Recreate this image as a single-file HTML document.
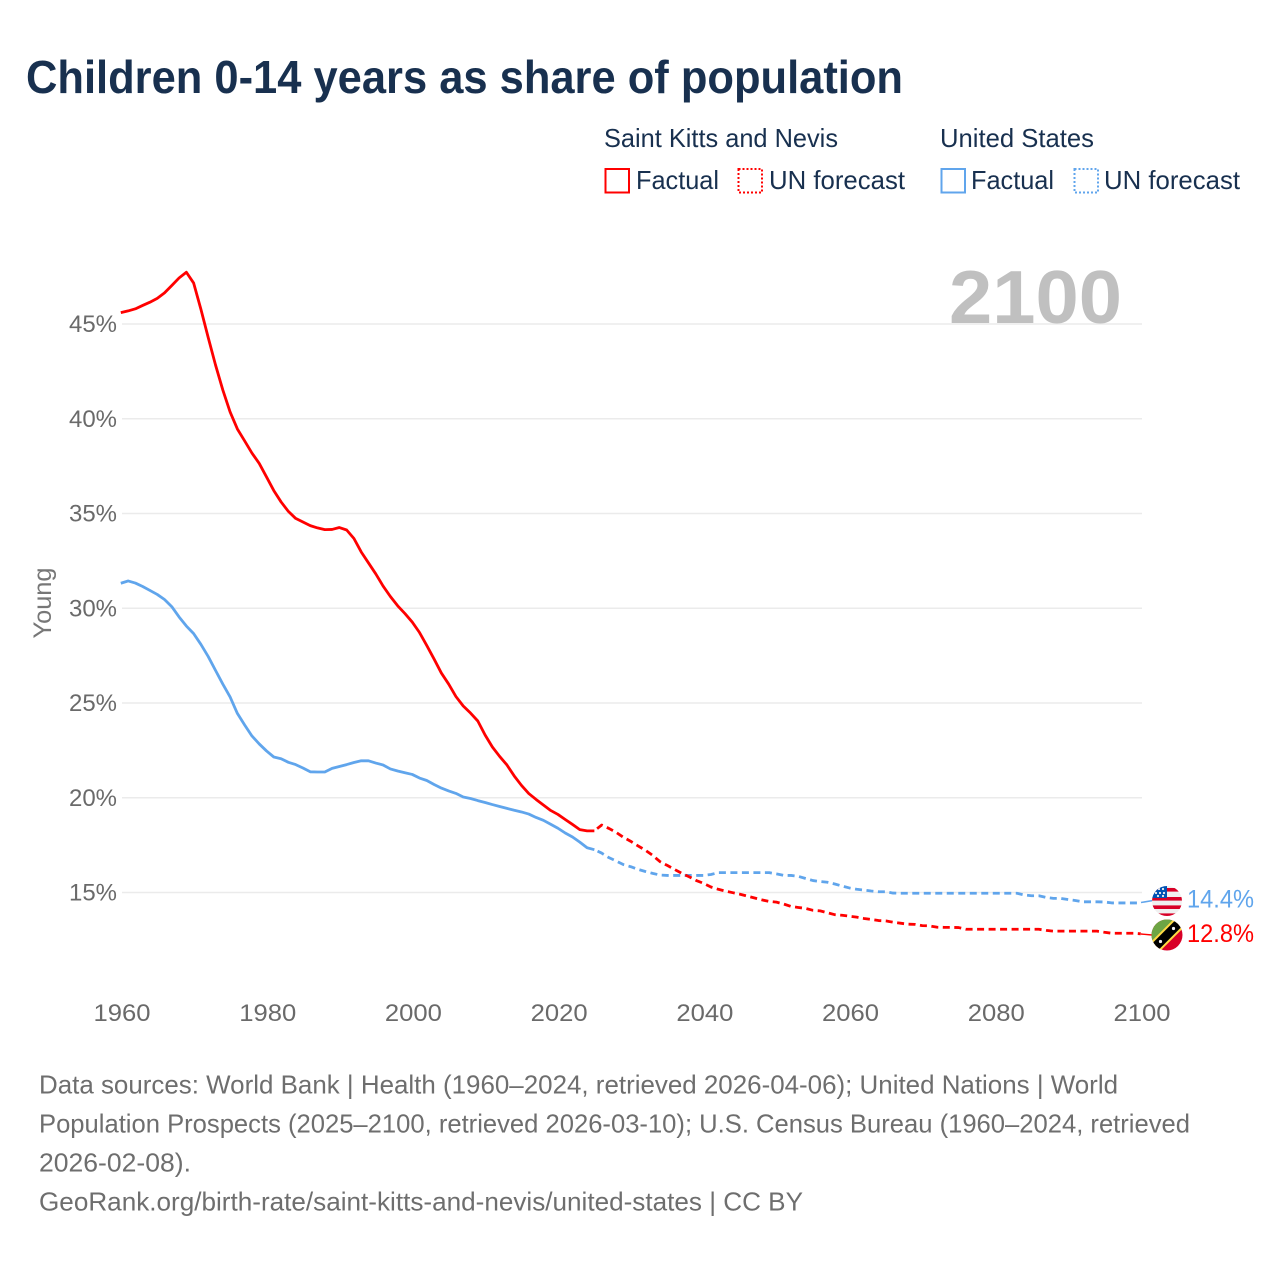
<!DOCTYPE html>
<html lang="en">
<head>
<meta charset="utf-8">
<title>Children 0-14 years as share of population</title>
<style>
html,body{margin:0;padding:0;background:#fff}
svg{display:block;font-family:"Liberation Sans",sans-serif}
.navy{fill:#18304f}
.foot{fill:#6e6e6e;font-size:26px}
.leg{fill:#18304f;font-size:26px}
.tick{fill:#6a6a6a;font-size:24px}
</style>
</head>
<body>
<svg id="chart" xmlns="http://www.w3.org/2000/svg" width="1280" height="1280" viewBox="0 0 1280 1280">
<defs>
<clipPath id="clip-us"><circle cx="1167" cy="901" r="15"/></clipPath>
<clipPath id="clip-kn"><circle cx="1167" cy="935" r="15.5"/></clipPath>
</defs>
<rect width="1280" height="1280" fill="#fff"/>
<text x="26" y="93" font-size="46" font-weight="700" fill="#18304f" textLength="877" lengthAdjust="spacingAndGlyphs">Children 0-14 years as share of population</text>

<g>
<text class="leg" x="604" y="147" textLength="234" lengthAdjust="spacingAndGlyphs">Saint Kitts and Nevis</text>
<text class="leg" x="940" y="147" textLength="154" lengthAdjust="spacingAndGlyphs">United States</text>
<rect x="605.5" y="169" width="23.5" height="23.5" fill="none" stroke="#ff0000" stroke-width="2"/>
<text class="leg" x="636" y="189" textLength="83" lengthAdjust="spacingAndGlyphs">Factual</text>
<rect x="738.5" y="169" width="23.5" height="23.5" fill="none" stroke="#ff0000" stroke-width="2" stroke-dasharray="2 2"/>
<text class="leg" x="769" y="189" textLength="136" lengthAdjust="spacingAndGlyphs">UN forecast</text>
<rect x="941.5" y="169" width="23.5" height="23.5" fill="none" stroke="#60a5ec" stroke-width="2"/>
<text class="leg" x="971" y="189" textLength="83" lengthAdjust="spacingAndGlyphs">Factual</text>
<rect x="1074.5" y="169" width="23.5" height="23.5" fill="none" stroke="#60a5ec" stroke-width="2" stroke-dasharray="2 2"/>
<text class="leg" x="1104" y="189" textLength="136" lengthAdjust="spacingAndGlyphs">UN forecast</text>
</g>

<g id="grid"></g>
<text x="949" y="323" font-size="75" font-weight="700" fill="#c0c0c0" textLength="173" lengthAdjust="spacingAndGlyphs">2100</text>
<g id="y-ticks"></g>
<g id="x-ticks"></g>
<text transform="translate(51,603) rotate(-90)" text-anchor="middle" font-size="25" fill="#777" textLength="71" lengthAdjust="spacingAndGlyphs">Young</text>

<path id="line-us-factual" fill="none" stroke="#60a5ec" stroke-width="2.8" stroke-linejoin="round"/>
<path id="line-us-forecast" fill="none" stroke="#60a5ec" stroke-width="2.8" stroke-dasharray="7 4.5" stroke-dashoffset="8" stroke-linejoin="round"/>
<path id="line-kn-factual" fill="none" stroke="#ff0000" stroke-width="2.8" stroke-linejoin="round"/>
<path id="line-kn-forecast" fill="none" stroke="#ff0000" stroke-width="2.8" stroke-dasharray="7 4.5" stroke-dashoffset="8" stroke-linejoin="round"/>

<line x1="1141" y1="902.5" x2="1153" y2="900.5" stroke="#60a5ec" stroke-width="1.6"/>
<line x1="1141" y1="934" x2="1152" y2="935" stroke="#ff0000" stroke-width="1.4"/>

<g clip-path="url(#clip-us)">
<rect x="1151" y="885" width="32" height="32" fill="#f0f0f0"/>
<rect x="1151" y="888" width="32" height="3.6" fill="#d80027"/>
<rect x="1151" y="897" width="32" height="3.6" fill="#d80027"/>
<rect x="1151" y="905.4" width="32" height="3.6" fill="#d80027"/>
<rect x="1151" y="913.4" width="32" height="3.6" fill="#d80027"/>
<rect x="1151" y="885" width="16" height="13" fill="#0052b4"/>
<circle cx="1159" cy="889" r="1.1" fill="#f0f0f0"/><circle cx="1163" cy="889" r="1.1" fill="#f0f0f0"/>
<circle cx="1156" cy="893" r="1.1" fill="#f0f0f0"/><circle cx="1160" cy="893" r="1.1" fill="#f0f0f0"/><circle cx="1164" cy="893" r="1.1" fill="#f0f0f0"/>
<circle cx="1158" cy="896" r="1.1" fill="#f0f0f0"/><circle cx="1163" cy="896" r="1.1" fill="#f0f0f0"/>
</g>
<g clip-path="url(#clip-kn)">
<rect x="1150" y="918" width="34" height="34" fill="#d80027"/>
<polygon points="1150,918 1184,918 1150,952" fill="#6da544"/>
<line x1="1152" y1="950" x2="1182" y2="920" stroke="#ffda44" stroke-width="13"/>
<line x1="1152" y1="950" x2="1182" y2="920" stroke="#000" stroke-width="9"/>
<circle cx="1160.500" cy="941.500" r="1.6" fill="#f0f0f0"/>
<circle cx="1173.500" cy="928.500" r="1.6" fill="#f0f0f0"/>
</g>

<text x="1187" y="907.5" font-size="25" fill="#60a5ec" textLength="67" lengthAdjust="spacingAndGlyphs">14.4%</text>
<text x="1187" y="942" font-size="25" fill="#ff0000" textLength="67" lengthAdjust="spacingAndGlyphs">12.8%</text>

<g>
<text class="foot" x="39" y="1093.5" textLength="1079" lengthAdjust="spacingAndGlyphs">Data sources: World Bank | Health (1960–2024, retrieved 2026-04-06); United Nations | World</text>
<text class="foot" x="39" y="1132.5" textLength="1151" lengthAdjust="spacingAndGlyphs">Population Prospects (2025–2100, retrieved 2026-03-10); U.S. Census Bureau (1960–2024, retrieved</text>
<text class="foot" x="39" y="1171.5" textLength="152" lengthAdjust="spacingAndGlyphs">2026-02-08).</text>
<text class="foot" x="39" y="1210.5" textLength="764" lengthAdjust="spacingAndGlyphs">GeoRank.org/birth-rate/saint-kitts-and-nevis/united-states | CC BY</text>
</g>
</svg>
<script>
const yTickValues = [45, 40, 35, 30, 25, 20, 15];
const xTickYears = [1960, 1980, 2000, 2020, 2040, 2060, 2080, 2100];
const factualStartYear = 1960;
const forecastStartYear = 2025;
const knFactual = [45.6,45.69,45.8,45.98,46.15,46.35,46.64,47.03,47.43,47.73,47.16,45.77,44.28,42.84,41.52,40.36,39.46,38.83,38.19,37.64,36.93,36.21,35.61,35.11,34.74,34.55,34.36,34.24,34.15,34.16,34.26,34.13,33.68,32.97,32.39,31.81,31.17,30.62,30.13,29.72,29.27,28.72,28.03,27.32,26.58,26,25.34,24.84,24.47,24.05,23.31,22.68,22.18,21.73,21.15,20.65,20.22,19.91,19.62,19.33,19.12,18.85,18.59,18.32,18.25,18.25];
const knForecast = [18.25,18.56,18.38,18.17,17.91,17.7,17.46,17.23,16.96,16.63,16.43,16.22,16.01,15.83,15.63,15.48,15.29,15.17,15.07,14.99,14.91,14.81,14.71,14.61,14.53,14.49,14.39,14.26,14.21,14.16,14.06,14.03,13.93,13.83,13.8,13.75,13.7,13.63,13.58,13.52,13.5,13.43,13.38,13.33,13.32,13.25,13.24,13.17,13.16,13.16,13.15,13.06,13.06,13.06,13.06,13.06,13.06,13.06,13.06,13.06,13.06,13.06,13,12.96,12.96,12.96,12.96,12.96,12.96,12.96,12.9,12.85,12.85,12.85,12.85,12.82];
const usFactual = [31.32,31.44,31.33,31.15,30.94,30.73,30.46,30.08,29.54,29.06,28.66,28.09,27.45,26.72,26,25.32,24.45,23.84,23.26,22.84,22.47,22.15,22.06,21.87,21.75,21.57,21.37,21.36,21.36,21.55,21.65,21.75,21.86,21.95,21.95,21.83,21.73,21.52,21.41,21.32,21.23,21.04,20.91,20.7,20.51,20.36,20.23,20.04,19.96,19.85,19.75,19.64,19.54,19.44,19.34,19.25,19.14,18.96,18.81,18.6,18.39,18.14,17.93,17.66,17.36,17.26];
const usForecast = [17.26,17.08,16.84,16.66,16.47,16.36,16.22,16.11,16.01,15.92,15.9,15.9,15.9,15.9,15.9,15.9,15.95,16.05,16.05,16.05,16.05,16.05,16.05,16.05,16.05,15.98,15.9,15.9,15.85,15.74,15.63,15.58,15.54,15.45,15.34,15.24,15.17,15.13,15.08,15.04,15.04,14.97,14.96,14.96,14.96,14.96,14.96,14.96,14.96,14.96,14.96,14.96,14.96,14.96,14.96,14.96,14.96,14.96,14.96,14.87,14.83,14.83,14.74,14.69,14.69,14.63,14.58,14.51,14.51,14.51,14.5,14.45,14.45,14.45,14.45,14.45];

const SVG_NS = 'http://www.w3.org/2000/svg';
function xScale(year) { return 122 + (year - 1960) * (1142 - 122) / 140; }
function dataX(year) { return xScale(year) - 1.2; }
function yScale(value) { return 892.5 - (value - 15) * 18.95; }
function linePath(values, startYear) {
  return values.map(function (v, i) {
    return (i ? 'L' : 'M') + dataX(startYear + i).toFixed(2) + ' ' + yScale(v).toFixed(2);
  }).join('');
}
document.getElementById('line-kn-factual').setAttribute('d', linePath(knFactual, factualStartYear));
document.getElementById('line-kn-forecast').setAttribute('d', linePath(knForecast, forecastStartYear));
document.getElementById('line-us-factual').setAttribute('d', linePath(usFactual, factualStartYear));
document.getElementById('line-us-forecast').setAttribute('d', linePath(usForecast, forecastStartYear));

const gridGroup = document.getElementById('grid');
const yGroup = document.getElementById('y-ticks');
const xGroup = document.getElementById('x-ticks');
yTickValues.forEach(function (v) {
  const gl = document.createElementNS(SVG_NS, 'line');
  
  
  gl.setAttribute('x1', 122);
  gl.setAttribute('x2', 1142);
  gl.setAttribute('y1', yScale(v));
  gl.setAttribute('y2', yScale(v));
  gl.setAttribute('stroke', '#ebebeb');
  gl.setAttribute('stroke-width', '1.5');
  gridGroup.appendChild(gl);
  const t = document.createElementNS(SVG_NS, 'text');
  
  
  t.setAttribute('class', 'tick');
  t.setAttribute('x', 69);
  t.setAttribute('y', yScale(v) + 8);
  t.setAttribute('textLength', 48);
  t.setAttribute('lengthAdjust', 'spacingAndGlyphs');
  t.textContent = v + '%';
  yGroup.appendChild(t);
});
xTickYears.forEach(function (yr) {
  const t = document.createElementNS(SVG_NS, 'text');
  
  
  t.setAttribute('class', 'tick');
  t.setAttribute('x', xScale(yr) - 28.5);
  t.setAttribute('y', 1021);
  t.setAttribute('textLength', 57);
  t.setAttribute('lengthAdjust', 'spacingAndGlyphs');
  t.textContent = yr;
  xGroup.appendChild(t);
});
</script>
</body>
</html>
